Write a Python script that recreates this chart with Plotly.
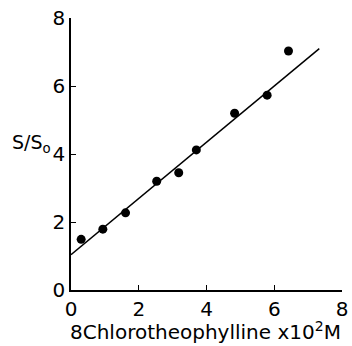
import plotly.graph_objects as go

# Data
conc = [0.30, 0.94, 1.61, 2.53, 3.18, 3.70, 4.83, 5.79, 6.42]
ratio = [1.49, 1.79, 2.27, 3.20, 3.45, 4.12, 5.20, 5.73, 7.03]
fit_x = [0.0, 7.33]
fit_y = [1.04, 7.10]
tick_vals = [0, 2, 4, 6, 8]
tick_text = ["0", "2", "4", "6", "8"]

FONT = "DejaVu Sans"

fig = go.Figure()
fig.add_trace(go.Scatter(x=fit_x, y=fit_y, mode="lines",
                         line=dict(color="black", width=1.5), showlegend=False))
fig.add_trace(go.Scatter(x=conc, y=ratio, mode="markers",
                         marker=dict(color="black", size=9), showlegend=False))

axis_common = dict(range=[0, 8], tickvals=tick_vals, ticktext=tick_text,
                   automargin=False,
                   showgrid=False, zeroline=False, showline=True,
                   linecolor="black", linewidth=1.5, ticks="inside",
                   ticklen=5, tickwidth=1.2, tickcolor="black",
                   tickfont=dict(family=FONT, size=20, color="black"))

fig.update_layout(
    width=352, height=346,
    margin=dict(l=71, r=10, t=18, b=56),
    paper_bgcolor="white", plot_bgcolor="white",
    xaxis=dict(**axis_common),
    yaxis=dict(**axis_common, ticklabelstandoff=0),
    annotations=[
        dict(text="8Chlorotheophylline x10<sup>2</sup>M", xref="paper", yref="paper",
             x=-0.012, y=-0.095, xanchor="left", yanchor="top", showarrow=False,
             font=dict(family=FONT, size=20, color="black")),
        dict(text="S/S<sub>o</sub>", xref="paper", yref="y",
             x=-0.068, y=4.3, xanchor="right", yanchor="middle", showarrow=False,
             font=dict(family=FONT, size=19, color="black")),
    ],
)

fig.write_html("out.html", config={"displayModeBar": False},
               post_script="document.body.style.margin='0';document.body.style.overflow='hidden';")
